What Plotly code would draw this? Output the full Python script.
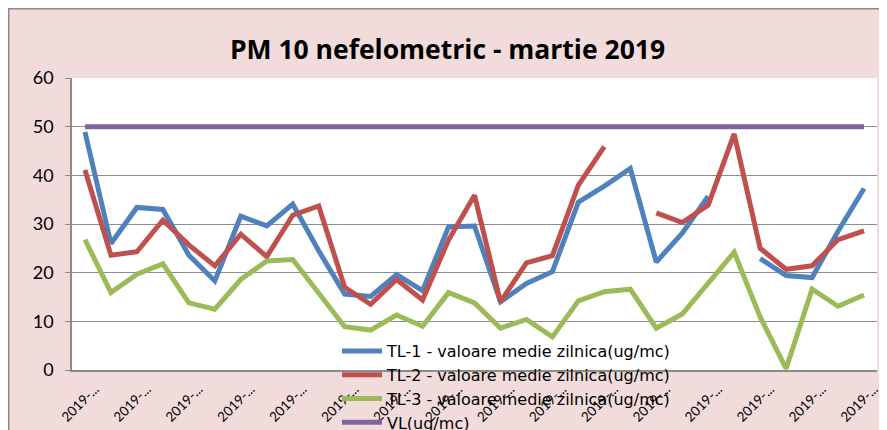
import plotly.graph_objects as go

days = ["2019-03-%02d" % d for d in range(1, 32)]
tick_days = days[::2]
tick_text = ["2019-..." for _ in tick_days]

tl1 = [48.9, 26.0, 33.4, 33.0, 23.6, 18.3, 31.6, 29.6, 34.1, 24.5,
       15.6, 15.1, 19.6, 16.3, 29.4, 29.6, 14.0, 17.8, 20.2, 34.5,
       37.8, 41.4, 22.2, 28.1, 35.7, None, 22.9, 19.4, 19.0, 28.5, 37.3]
tl2 = [41.1, 23.6, 24.3, 30.8, 25.7, 21.4, 27.9, 23.3, 31.8, 33.7,
       17.0, 13.5, 18.6, 14.4, 26.7, 35.9, 14.0, 22.0, 23.5, 38.0,
       45.9, None, 32.3, 30.3, 33.9, 48.5, 25.0, 20.7, 21.4, 26.8, 28.6]
tl3 = [26.8, 15.9, 19.7, 21.8, 13.8, 12.5, 18.6, 22.4, 22.7, 15.8,
       8.9, 8.2, 11.3, 9.0, 15.9, 13.8, 8.6, 10.4, 6.8, 14.2,
       16.1, 16.6, 8.6, 11.5, 17.8, 24.2, 10.9, 0.3, 16.6, 13.1, 15.4]
vl = [50] * 31

names = ["TL-1 - valoare medie zilnica(ug/mc)",
         "TL-2 - valoare medie zilnica(ug/mc)",
         "TL-3 - valoare medie zilnica(ug/mc)",
         "VL(ug/mc)"]
colors = ["#4F81BD", "#C0504D", "#9BBB59", "#8064A2"]
series = [tl1, tl2, tl3, vl]

# the page body has an 8px margin, so the figure starts at (8, 8) on screen
W, H = 879, 422
L, R, T, B = 64, 10, 70, 60
pw, ph = W - L - R, H - T - B

def px(x):
    return (x - L) / pw

def py(y):
    return (H - B - y) / ph

fig = go.Figure()
for s, n, c in zip(series, names, colors):
    fig.add_trace(go.Scatter(x=days, y=s, name=n, mode="lines",
                             line=dict(color=c, width=5),
                             connectgaps=False))

font = "Lato, 'Liberation Sans', sans-serif"
grid = "#8c8c8c"
pink = "#F2DCDB"

shapes = [
    dict(type="line", xref="paper", yref="paper", x0=px(0), x1=px(W), y0=py(0.75), y1=py(0.75),
         line=dict(color="#8a8a8a", width=1.5), layer="above"),
    dict(type="line", xref="paper", yref="paper", x0=px(0.75), x1=px(0.75), y0=py(0), y1=py(H),
         line=dict(color="#8a8a8a", width=1.5), layer="above"),
]

fig.update_layout(
    width=W, height=H,
    margin=dict(l=L, r=R, t=T, b=B, autoexpand=False),
    paper_bgcolor=pink, plot_bgcolor="white",
    font=dict(family=font, color="black"),
    title=dict(text="<b>PM 10 nefelometric - martie 2019</b>", x=0.5,
               xref="container", xanchor="center",
               y=1 - 42 / H, yanchor="middle",
               font=dict(size=26.5, family="'Open Sans', Lato, sans-serif", color="black")),
    xaxis=dict(type="category", tickmode="array", tickvals=tick_days, ticktext=tick_text,
               tickangle=-45, tickfont=dict(size=13.5), showgrid=False,
               showline=True, linecolor=grid, linewidth=2, ticks="",
               ticklabelshift=10, ticklabelstandoff=4, range=[-0.5, 30.5]),
    yaxis=dict(range=[0, 60], dtick=10, showgrid=True, gridcolor=grid, gridwidth=1.3,
               showline=True, linecolor=grid, linewidth=1.5, ticks="outside", ticklen=5,
               tickcolor=grid, tickfont=dict(size=18), ticklabelstandoff=8, zeroline=False),
    legend=dict(x=px(329), y=py(326), xanchor="left", yanchor="top",
                bgcolor="rgba(0,0,0,0)",
                font=dict(size=16, family="'DejaVu Sans', sans-serif"),
                itemwidth=40, traceorder="normal"),
    shapes=shapes,
)

fig.write_html("out.html")
